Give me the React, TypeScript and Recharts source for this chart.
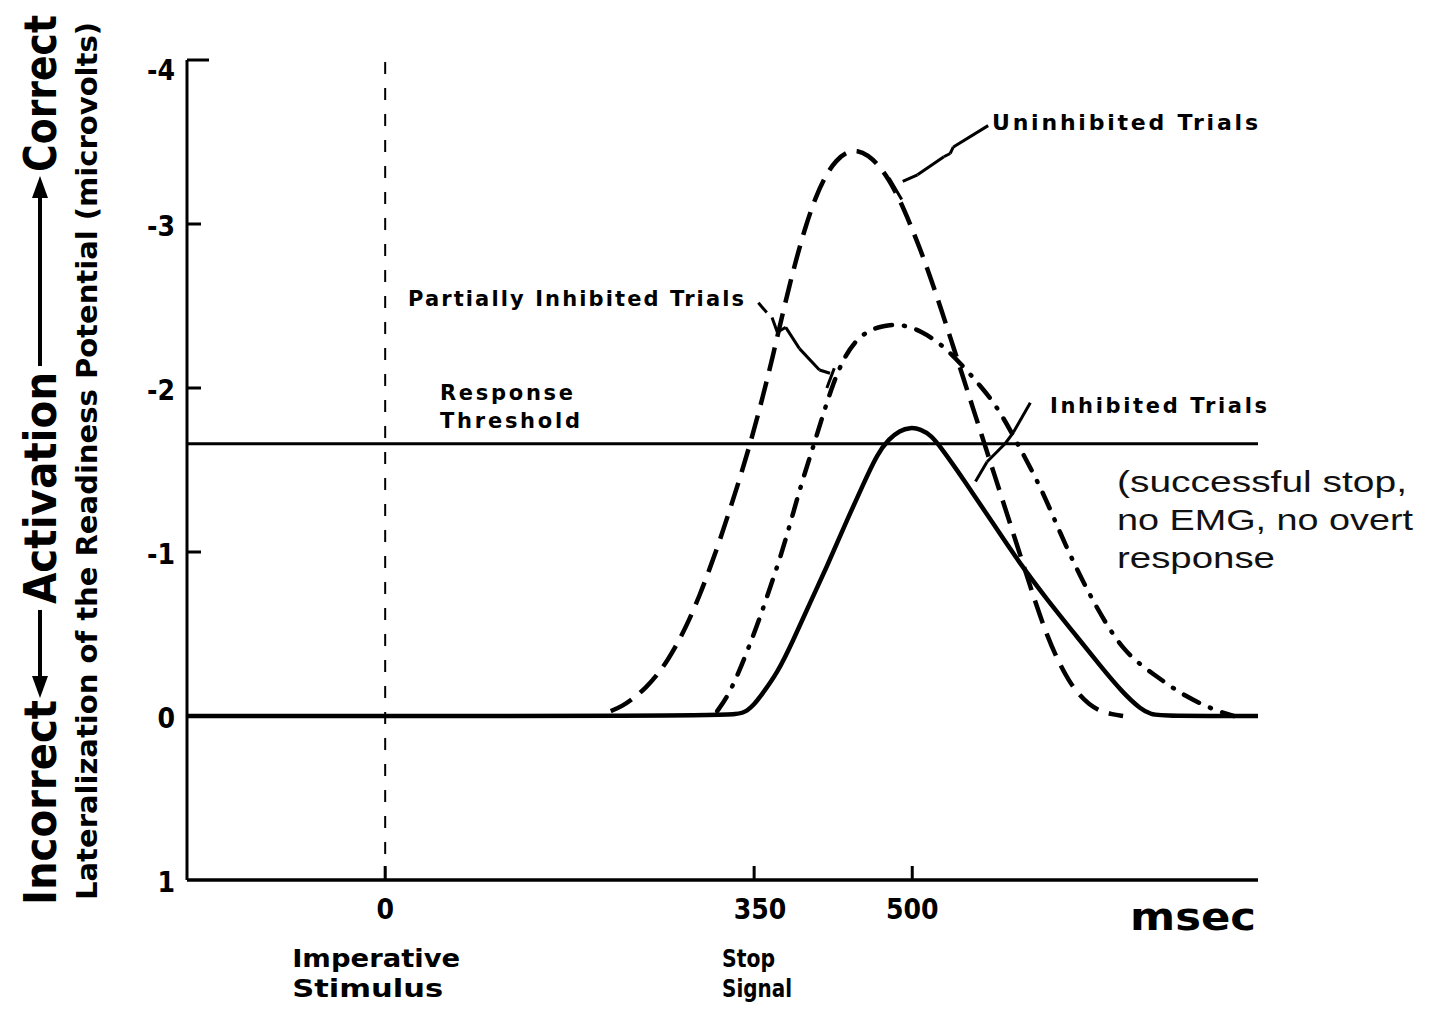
import React from 'react';
import { LineChart, Line, XAxis, YAxis, ReferenceLine } from 'recharts';

// time in msec after the imperative stimulus, LRP in microvolts (negative = toward correct response)
const uninhibitedMs = [214, 225, 236, 247, 258, 268, 278, 288, 298, 308, 318, 328, 338, 348, 358, 368, 378, 388, 398, 408, 418, 428, 438, 448, 458, 468, 478, 488, 498, 508, 518, 528, 538, 548, 558, 568, 578, 588, 598, 608, 618, 628, 638, 648, 658, 668, 678, 690, 700];
const uninhibitedUv = [-0.03, -0.06, -0.11, -0.17, -0.25, -0.34, -0.45, -0.58, -0.73, -0.9, -1.08, -1.28, -1.48, -1.7, -1.94, -2.2, -2.48, -2.74, -2.97, -3.16, -3.3, -3.39, -3.44, -3.45, -3.42, -3.36, -3.27, -3.15, -3.0, -2.84, -2.66, -2.47, -2.27, -2.07, -1.87, -1.67, -1.47, -1.27, -1.07, -0.87, -0.67, -0.49, -0.34, -0.22, -0.13, -0.07, -0.03, -0.01, 0];

const partialMs = [315, 325, 335, 345, 355, 365, 375, 385, 395, 405, 415, 425, 435, 445, 458, 472, 490, 508, 527, 546, 565, 580, 595, 610, 625, 640, 655, 670, 685, 700, 715, 730, 745, 760, 775, 790, 805];
const partialUv = [-0.03, -0.12, -0.26, -0.42, -0.59, -0.78, -0.97, -1.19, -1.42, -1.62, -1.83, -2.03, -2.18, -2.28, -2.35, -2.38, -2.39, -2.35, -2.27, -2.15, -2.01, -1.89, -1.72, -1.54, -1.35, -1.12, -0.91, -0.72, -0.55, -0.41, -0.32, -0.25, -0.18, -0.12, -0.07, -0.03, 0];

const inhibitedMs = [-188, 300, 337, 343, 350, 356, 372, 387, 403, 419, 435, 454, 467, 478, 488, 498, 508, 518, 527, 549, 574, 602, 628, 653, 679, 700, 717, 726, 740, 828];
const inhibitedUv = [0, 0, -0.01, -0.03, -0.07, -0.12, -0.26, -0.46, -0.69, -0.91, -1.15, -1.42, -1.6, -1.69, -1.74, -1.76, -1.75, -1.71, -1.64, -1.44, -1.2, -0.93, -0.71, -0.51, -0.3, -0.14, -0.04, -0.01, 0, 0];

const thresholdUv = -1.66;
const stimulusMs = 0;
const xTicks = [0, 350, 500];
const yTicks = [-4, -3, -2, -1, 0, 1];
const xSubLabels: Record<number, string[]> = { 0: ['Imperative', 'Stimulus'], 350: ['Stop', 'Signal'] };

// leader lines from the labels to the curves, [msec, microvolts]
const uninhibitedLeader = [[572, -3.6], [539, -3.47], [536, -3.43], [530, -3.41], [505, -3.3], [491, -3.26]];
const uninhibitedBar = [[478, -3.28], [490, -3.15]];
const partialTick = [[354, -2.52], [362, -2.46]];
const partialLeader = [[367, -2.43], [372, -2.34], [380, -2.37], [393, -2.24], [412, -2.11], [422, -2.09]];
const partialBar = [[426, -2.12], [419, -2.0]];
const inhibitedLeader = [[612, -1.91], [596, -1.73], [588, -1.66], [571, -1.55], [560, -1.43]];

const toPoints = (ms: number[], uv: number[]) => ms.map((t, i) => ({ t, v: uv[i] }));

const narrow = "'Liberation Sans Narrow', 'DejaVu Sans Condensed', 'Liberation Sans', sans-serif";
const heavy = "'DejaVu Sans', 'Liberation Sans', sans-serif";

function YTick({ x, y, payload }: any) {
  const v = payload.value;
  const len = v === -4 ? 22 : v === 1 ? 0 : 14;
  return (
    <g>
      {len > 0 && <line x1={x} x2={x + len} y1={y} y2={y} stroke="#000" strokeWidth={3} />}
      <text x={x - 12} y={y + (v === -4 ? 20 : 12)} textAnchor="end" fontFamily={narrow} fontWeight={700} fontSize={28} fill="#000">
        {v}
      </text>
    </g>
  );
}

function XTick({ x, y, payload }: any) {
  const v = payload.value;
  const sub = xSubLabels[v];
  const subX = v === 0 ? x - 93 : x - 32;
  return (
    <g>
      <line x1={x} x2={x} y1={y} y2={y - 14} stroke="#000" strokeWidth={3} />
      <text x={v === 350 ? x + 6 : x} y={y + 39} textAnchor="middle" fontFamily={narrow} fontWeight={700} fontSize={28} fill="#000">
        {v}
      </text>
      {sub &&
        sub.map((s, i) => (
          <text key={s} x={subX} y={y + 87 + i * 30} fontFamily={heavy} fontWeight={700} fontSize={24} fill="#000"
            textLength={v === 0 ? (i === 0 ? 168 : 151) : i === 0 ? 53 : 70} lengthAdjust="spacingAndGlyphs">
            {s}
          </text>
        ))}
    </g>
  );
}

function leaderSegments(pts: number[][], key: string) {
  return pts.slice(1).map((p, i) => (
    <ReferenceLine key={key + i} segment={[{ x: pts[i][0], y: pts[i][1] }, { x: p[0], y: p[1] }]}
      stroke="#000" strokeWidth={3} ifOverflow="visible" />
  ));
}

export default function App() {
  return (
    <div style={{ position: 'absolute', left: 0, top: 0, width: 1431, height: 1010, background: '#fff' }}>
      <LineChart width={1431} height={1010} margin={{ top: 60, right: 173, bottom: 100, left: 0 }}>
        <XAxis dataKey="t" type="number" domain={[-188, 828]} allowDataOverflow ticks={xTicks} interval={0}
          height={30} tickSize={0} tickMargin={0} tickLine={false} tick={<XTick />}
          axisLine={{ stroke: '#000', strokeWidth: 3.5 }} />
        <YAxis type="number" domain={[-4, 1]} reversed ticks={yTicks} interval={0} width={187}
          tickSize={0} tickMargin={0} tickLine={false} tick={<YTick />}
          axisLine={{ stroke: '#000', strokeWidth: 3 }} />
        <ReferenceLine x={stimulusMs} stroke="#000" strokeWidth={2} strokeDasharray="12 14" />
        <ReferenceLine y={thresholdUv} stroke="#000" strokeWidth={3} />
        <Line data={toPoints(inhibitedMs, inhibitedUv)} dataKey="v" type="basis" stroke="#000" strokeWidth={4.5}
          dot={false} activeDot={false} isAnimationActive={false} />
        <Line data={toPoints(uninhibitedMs, uninhibitedUv)} dataKey="v" type="basis" stroke="#000" strokeWidth={4.5}
          strokeDasharray="24 11" dot={false} activeDot={false} isAnimationActive={false} />
        <Line data={toPoints(partialMs, partialUv)} dataKey="v" type="basis" stroke="#000" strokeWidth={4.5}
          strokeLinecap="round" strokeDasharray="17 12 1 12" dot={false} activeDot={false} isAnimationActive={false} />
        {leaderSegments(uninhibitedLeader, 'ul')}
        {leaderSegments(uninhibitedBar, 'ub')}
        {leaderSegments(partialTick, 'pt')}
        {leaderSegments(partialLeader, 'pl')}
        {leaderSegments(partialBar, 'pb')}
        {leaderSegments(inhibitedLeader, 'il')}
      </LineChart>

      <svg width={1431} height={1010} style={{ position: 'absolute', left: 0, top: 0, pointerEvents: 'none' }}>
        <g fontFamily={heavy} fontWeight={700} fontSize={21} fill="#000">
          <text x={992} y={130} fontSize={22} textLength={266} lengthAdjust="spacing">Uninhibited Trials</text>
          <text x={408} y={306} textLength={336} lengthAdjust="spacing">Partially Inhibited Trials</text>
          <text x={440} y={400} textLength={133} lengthAdjust="spacing">Response</text>
          <text x={440} y={428} textLength={140} lengthAdjust="spacing">Threshold</text>
          <text x={1050} y={413} textLength={217} lengthAdjust="spacing">Inhibited Trials</text>
        </g>
        <g fontFamily="'Liberation Sans', Arial, sans-serif" fontSize={29} fill="#111" style={{ whiteSpace: 'pre' }}>
          <text x={1117} y={492} textLength={290} lengthAdjust="spacingAndGlyphs">(successful  stop,</text>
          <text x={1117} y={530} textLength={296} lengthAdjust="spacingAndGlyphs">no EMG, no overt</text>
          <text x={1117} y={568} textLength={158} lengthAdjust="spacingAndGlyphs">response</text>
        </g>
        <text x={1130} y={930} fontFamily={heavy} fontWeight={700} fontSize={38} textLength={126} lengthAdjust="spacingAndGlyphs">msec</text>

        {/* rotated axis titles */}
        <g fontFamily={narrow} fontWeight={700} fill="#000">
          <text transform="translate(56,905) rotate(-90)" fontSize={44} textLength={205} lengthAdjust="spacingAndGlyphs">Incorrect</text>
          <text transform="translate(56,604) rotate(-90)" fontSize={44} textLength={232} lengthAdjust="spacingAndGlyphs">Activation</text>
          <text transform="translate(56,172) rotate(-90)" fontSize={44} textLength={157} lengthAdjust="spacingAndGlyphs">Correct</text>
          <text transform="translate(97,900) rotate(-90)" fontSize={29} textLength={878} lengthAdjust="spacingAndGlyphs">
            Lateralization of the Readiness Potential (microvolts)
          </text>
        </g>
        <line x1={40} x2={40} y1={680} y2={610} stroke="#000" strokeWidth={4} />
        <polygon points="40,698 32,676 48,676" fill="#000" />
        <line x1={40} x2={40} y1={366} y2={194} stroke="#000" strokeWidth={4} />
        <polygon points="40,176 32,198 48,198" fill="#000" />
      </svg>
    </div>
  );
}
